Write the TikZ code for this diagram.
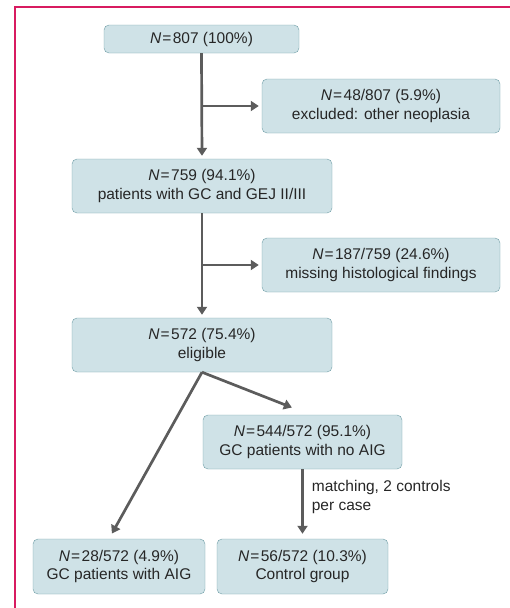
\documentclass[tikz,border=0pt]{standalone}
\usepackage{fontspec}
\setmainfont{Liberation Sans}
\usetikzlibrary{arrows.meta,positioning}
\definecolor{boxfill}{HTML}{CFE2E7}
\definecolor{boxline}{HTML}{6E9DA5}
\definecolor{arrowgray}{HTML}{5C5C5C}
\definecolor{framepink}{HTML}{D81B60}
\newcommand{\Nval}{\textit{N}\hspace{1pt}=\hspace{1.5pt}}
\tikzset{
  box/.style  = {draw=boxline, fill=boxfill, rounded corners=5pt, align=center,
                 font=\fontsize{15.5}{18.5}\selectfont, inner sep=0pt,
                 minimum height=54pt, text=black!85},
  e/.style    = {-{Triangle[length=8pt,width=10pt]}, line width=2.7pt, arrowgray,
                 shorten >=3pt},
  note/.style = {font=\fontsize{15.5}{19.5}\selectfont, text=black!85, align=left,
                 inner sep=0pt},
  frame/.style= {draw=framepink, line width=2pt}
}

\begin{document}
\begin{tikzpicture}[x=1pt,y=-1pt]
  \useasboundingbox (0,0) rectangle (510,608);
  \draw[frame] (511,7) -- (15,7) -- (15,609);
  % ---- main column ----
  \node[box, minimum width=195pt, minimum height=28pt] (n807) at (201.5,39) {\Nval807 (100\%)};
  \node[box, minimum width=238pt] (ex48) at (381,106) {\Nval48/807 (5.9\%)\\excluded: other neoplasia};
  \node[box, minimum width=260pt] (n759) at (202,186) {\Nval759 (94.1\%)\\patients with GC and GEJ II/III};
  \node[box, minimum width=238pt] (miss) at (381,265) {\Nval187/759 (24.6\%)\\missing histological findings};
  \node[box, minimum width=260pt] (n572) at (202,345) {\Nval572 (75.4\%)\\eligible};
  % ---- split ----
  \node[box, minimum width=199pt] (noaig) at (302.5,442) {\Nval544/572 (95.1\%)\\GC patients with no AIG};
  \node[box, minimum width=172pt, minimum height=55pt] (aig) at (119,566.5) {\Nval28/572 (4.9\%)\\GC patients with AIG};
  \node[box, minimum width=171pt, minimum height=55pt] (ctrl) at (302.5,566.5) {\Nval56/572 (10.3\%)\\Control group};
  % ---- connectors ----
  \draw[e] (n807.south) -- (n759.north);
  \draw[e] (n807.south |- ex48.west) -- (ex48.west);
  \draw[e] (n759.south) -- (n572.north);
  \draw[e] (n759.south |- miss.west) -- (miss.west);
  \draw[e, shorten >=6pt] (n572.south) -- ([xshift=-10pt]aig.north);
  \draw[e, shorten >=20pt] (n572.south) -- ([xshift=8pt]noaig.north);
  \draw[e, shorten >=5pt] (noaig.south) -- (ctrl.north)
    node[note, pos=0.4, anchor=west, xshift=8pt] {matching, 2 controls\\per case};
\end{tikzpicture}
\end{document}
